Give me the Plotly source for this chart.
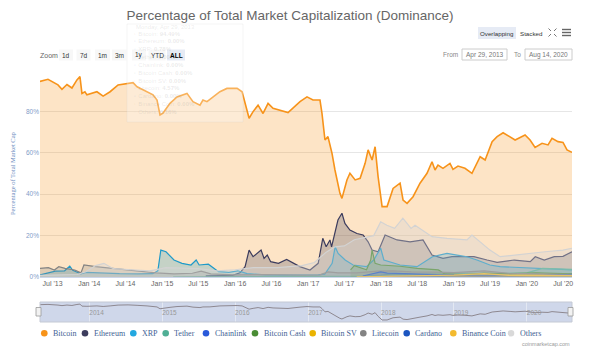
import plotly.graph_objects as go

# ---------------- data ----------------
btc_dates = ["2013-04-29","2013-06-08","2013-07-28","2013-08-17","2013-09-11","2013-10-06","2013-10-31",
             "2013-11-15","2013-11-25","2013-12-10","2013-12-20","2014-02-08","2014-03-11","2014-04-15",
             "2014-05-25","2014-07-14","2014-08-08","2014-08-28","2014-10-17","2014-11-16","2014-12-06",
             "2014-12-21","2015-01-05","2015-02-09","2015-03-16","2015-05-05","2015-06-04","2015-07-09",
             "2015-07-24","2015-08-13","2015-08-28","2015-10-17","2015-11-21","2016-01-11","2016-02-05",
             "2016-02-20","2016-03-11","2016-03-31","2016-04-25","2016-05-20","2016-06-14","2016-07-09",
             "2016-09-22","2016-11-21","2016-12-26","2017-01-25","2017-03-01","2017-03-11","2017-03-26",
             "2017-04-10","2017-04-30","2017-05-15","2017-06-09","2017-06-19","2017-07-14","2017-07-29",
             "2017-08-24","2017-09-18","2017-10-13","2017-10-28","2017-11-17","2017-12-02","2017-12-17",
             "2018-01-06","2018-01-31","2018-03-02","2018-04-06","2018-04-21","2018-05-11","2018-06-10",
             "2018-07-15","2018-08-19","2018-09-13","2018-09-28","2018-10-13","2018-11-07","2018-12-12",
             "2018-12-27","2019-01-21","2019-02-25","2019-04-01","2019-05-12","2019-06-06","2019-07-11",
             "2019-08-05","2019-09-04","2019-10-09","2019-11-03","2019-12-23","2020-01-17","2020-02-11",
             "2020-03-17","2020-04-16","2020-05-06","2020-06-05","2020-06-30","2020-07-20","2020-08-09",
             "2020-08-14"]
btc_vals = [94.5,95.5,92.8,90.7,93.0,91.3,95.2,
            96.8,88.7,89.5,88.0,89.5,87.4,89.5,
            92.8,93.6,93.9,91.9,89.5,88.0,85.5,
            78.3,79.2,83.9,87.0,88.7,84.7,83.0,
            85.5,84.7,85.8,89.5,91.1,91.1,89.5,
            83.9,76.7,79.9,83.0,79.0,83.9,81.5,
            79.4,84.7,87.0,85.5,85.5,79.0,66.2,
            67.8,59.8,51.7,40.4,38.0,46.9,50.1,
            46.9,47.7,54.9,61.4,56.5,62.9,48.5,
            34.0,34.0,42.8,45.3,37.2,35.6,38.8,
            45.3,50.1,55.7,51.7,54.1,52.5,54.9,
            52.0,53.6,52.5,50.1,58.1,56.5,65.4,
            67.8,69.7,67.8,66.2,68.6,66.2,62.6,
            64.6,63.8,67.0,65.4,65.0,61.4,60.2,
            60.2]

eth_dates = ["2015-08-07","2015-10-01","2015-12-20","2016-01-25","2016-02-20","2016-03-11","2016-03-31",
             "2016-05-10","2016-05-25","2016-06-10","2016-06-27","2016-08-05","2016-09-15","2016-11-20",
             "2017-01-10","2017-02-20","2017-03-15","2017-04-01","2017-04-20","2017-04-28","2017-05-15",
             "2017-05-30","2017-06-19","2017-07-04","2017-07-29","2017-09-02","2017-10-03","2017-10-28",
             "2017-11-17","2017-12-17","2018-01-21","2018-03-22","2018-05-26","2018-07-30","2018-09-13",
             "2018-11-07","2018-12-22","2019-04-11","2019-06-16","2019-08-05","2019-10-30","2020-01-18",
             "2020-02-12","2020-03-28","2020-05-17","2020-06-30","2020-08-14"]
eth_vals = [0.5,0.6,0.8,2.0,5.0,13.0,9.8,
            13.0,9.0,10.6,7.4,6.6,8.5,5.0,
            3.4,6.6,18.7,14.6,17.9,14.6,21.0,
            27.5,30.8,25.9,22.7,21.0,20.3,17.0,
            13.0,12.2,20.3,17.9,17.0,17.9,10.6,
            9.0,9.8,9.8,8.2,7.1,8.2,7.4,
            9.8,8.2,9.8,10.0,12.2]

xrp_dates = ["2013-04-29","2013-07-15","2013-08-30","2013-09-25","2013-10-10","2013-11-20","2013-12-15",
             "2014-03-01","2014-06-01","2014-09-01","2014-11-15","2014-12-10","2014-12-25","2015-01-20",
             "2015-02-10","2015-03-01","2015-04-10","2015-05-25","2015-06-20","2015-07-05","2015-08-20",
             "2015-09-15","2015-10-10","2015-12-01","2016-01-15","2016-03-01","2016-06-01","2016-09-01",
             "2016-12-01","2017-02-20","2017-03-25","2017-05-01","2017-05-16","2017-05-31","2017-07-05",
             "2017-08-14","2017-10-20","2017-11-25","2017-12-30","2018-01-15","2018-04-06","2018-06-30",
             "2018-09-15","2018-11-27","2019-01-16","2019-03-07","2019-04-26","2019-06-30","2019-08-20",
             "2020-01-18","2020-08-14"]
xrp_vals = [1.0,2.8,3.0,5.2,3.2,1.5,2.2,
            1.8,1.6,1.5,1.6,3.0,13.0,12.2,
            10.0,8.2,6.6,5.8,8.2,5.8,6.2,
            4.2,2.6,2.2,3.0,1.6,1.0,0.9,
            1.0,1.0,1.4,6.6,14.6,11.4,8.2,
            5.8,5.0,8.2,13.9,8.2,5.8,5.0,
            9.8,11.4,10.6,9.8,8.2,5.8,5.0,
            4.2,3.4]

usdt_dates = ["2015-02-25","2017-01-01","2017-10-01","2018-01-01","2018-03-01","2018-06-01","2018-09-01",
              "2018-12-15","2019-03-01","2019-07-01","2019-10-01","2020-01-01","2020-03-20","2020-06-01",
              "2020-08-14"]
usdt_vals = [0.0,0.1,0.4,0.8,1.5,1.0,1.3,
             1.8,1.9,1.6,1.8,2.0,4.2,4.0,
             3.7]

link_dates = ["2017-09-20","2018-06-01","2019-06-01","2019-08-01","2020-01-01","2020-05-01","2020-08-14"]
link_vals = [0.05,0.1,0.3,0.6,0.5,0.6,1.5]

bch_dates = ["2017-08-01","2017-08-20","2017-10-20","2017-11-10","2017-11-17","2017-12-02","2017-12-30",
             "2018-04-06","2018-07-01","2018-10-15","2018-11-15","2019-03-01","2019-06-01","2019-10-01",
             "2020-02-15","2020-08-14"]
bch_vals = [3.4,5.5,3.5,8.2,13.0,6.6,5.8,
            5.2,4.2,3.4,1.5,1.1,1.9,1.6,
            2.0,1.5]

bsv_dates = ["2018-11-15","2019-03-01","2019-06-01","2020-01-15","2020-03-01","2020-08-14"]
bsv_vals = [0.8,0.6,0.8,1.0,1.0,0.8]

ltc_dates = ["2013-04-29","2013-06-10","2013-07-10","2013-08-01","2013-09-01","2013-10-20","2013-11-20",
             "2013-12-05","2014-02-01","2014-04-15","2014-07-01","2014-09-10","2014-12-01","2015-03-01",
             "2015-06-01","2015-07-15","2015-09-01","2016-01-01","2016-06-01","2016-12-01","2017-03-01",
             "2017-04-10","2017-06-01","2017-09-01","2017-12-15","2018-03-01","2018-06-01","2018-10-01",
             "2019-01-01","2019-06-01","2019-10-01","2020-03-01","2020-08-14"]
ltc_vals = [4.2,4.5,3.4,5.0,4.2,3.4,2.0,
            5.8,5.0,4.2,3.4,2.6,2.0,1.5,
            1.8,2.8,1.5,1.0,1.2,0.9,1.0,
            2.5,2.0,2.0,2.8,3.0,2.5,2.4,
            2.1,3.0,1.8,1.5,1.2]

ada_dates = ["2017-10-01","2017-12-30","2018-02-01","2018-06-01","2019-01-01","2019-06-01","2020-01-01","2020-08-14"]
ada_vals = [0.5,2.5,1.9,1.5,0.9,0.8,0.6,0.9]

bnb_dates = ["2017-09-01","2018-01-01","2018-06-01","2019-01-01","2019-06-01","2019-10-01","2020-01-01","2020-08-14"]
bnb_vals = [0.1,0.3,0.6,0.9,1.6,0.8,0.7,0.7]

oth_dates = ["2013-04-29","2013-08-01","2013-11-01","2013-12-15","2014-02-01","2014-03-15","2014-05-01",
             "2014-08-01","2014-11-01","2015-01-20","2015-04-01","2015-07-01","2015-10-01","2016-01-01",
             "2016-04-01","2016-08-01","2016-12-01","2017-02-01","2017-04-01","2017-05-15","2017-07-01",
             "2017-08-20","2017-11-25","2017-12-30","2018-01-30","2018-03-10","2018-04-20","2018-05-31",
             "2018-06-20","2018-09-13","2018-11-27","2019-03-07","2019-04-01","2019-05-12","2019-06-30",
             "2019-08-20","2019-11-03","2020-01-18","2020-04-01","2020-06-30","2020-08-14"]
oth_vals = [0.8,1.0,1.2,2.5,5.5,6.6,4.0,
            3.5,3.0,4.5,4.2,4.0,3.0,3.5,
            4.5,4.5,5.5,7.0,12.0,14.6,15.0,
            18.0,20.0,26.7,25.0,23.5,28.4,23.5,
            25.0,19.5,18.7,17.9,20.3,17.0,13.0,
            9.8,10.6,11.7,12.2,13.0,13.9]

names = ["Bitcoin","Ethereum","XRP","Tether","Chainlink","Bitcoin Cash","Bitcoin SV",
         "Litecoin","Cardano","Binance Coin","Others"]
series_x = [btc_dates, eth_dates, xrp_dates, usdt_dates, link_dates, bch_dates, bsv_dates,
            ltc_dates, ada_dates, bnb_dates, oth_dates]
series_y = [btc_vals, eth_vals, xrp_vals, usdt_vals, link_vals, bch_vals, bsv_vals,
            ltc_vals, ada_vals, bnb_vals, oth_vals]
tooltip_vals = ["94.49%","0.00%","0.78%","0.00%","0.00%","0.00%","0.00%","4.57%","0.00%","0.00%","0.16%"]

y_ticks = [0, 20, 40, 60, 80, 100]
y_ticktext = ["0%", "20%", "40%", "60%", "80%", ""]
nav_years = ["2014","2015","2016","2017","2018","2019","2020"]
range_buttons = ["1d","7d","1m","3m","1y","YTD","ALL"]
date_from, date_to = "Apr 29, 2013", "Aug 14, 2020"

# ---------------- styles ----------------
colors = ["#f7931a","#3c3c5d","#1f9ac9","#50af95","#2a5ada","#4a8c34","#eab300",
          "#838383","#1c55c0","#f3ba2f","#d3d3d3"]
legend_colors = ["#f7931a","#3c3c5d","#23a8e0","#50af95","#2a5ada","#4a8c34","#eab300",
                 "#838383","#1c55c0","#f3ba2f","#d9d9d9"]
def rgba(hexc, a):
    h = hexc.lstrip("#")
    return "rgba(%d,%d,%d,%.2f)" % (int(h[0:2],16), int(h[2:4],16), int(h[4:6],16), a)

W, H = 600, 357
ML, MR, MT, MB = 40, 28, 70, 35
def px(x): return (x - ML) / (W - ML - MR)
def py(y): return (H - MB - y) / (H - MT - MB)

SERIF = "Liberation Serif"
SANS = "Liberation Sans"

def note(x, y, text, size, color, family=SANS, xanchor="center", **kw):
    return dict(x=px(x), y=py(y), xref="paper", yref="paper", xanchor=xanchor, yanchor="middle",
                text=text, showarrow=False, font=dict(family=family, size=size, color=color), **kw)

fig = go.Figure()
for i, (nm, xs, ys) in enumerate(zip(names, series_x, series_y)):
    fig.add_trace(go.Scatter(
        x=xs, y=ys, name=nm, mode="lines", fill="tozeroy",
        line=dict(color=colors[i], width=1.6 if i == 0 else 1.2),
        fillcolor=rgba(colors[i], 0.25 if i != 10 else 0.35),
        hoverinfo="skip", showlegend=False, xaxis="x", yaxis="y"))

# navigator series
fig.add_trace(go.Scatter(x=btc_dates, y=btc_vals, mode="lines",
                         line=dict(color="#8e8890", width=1),
                         hoverinfo="skip", showlegend=False, xaxis="x2", yaxis="y2"))

xr = ["2013-04-29", "2020-08-14"]
fig.update_layout(
    width=W, height=H, margin=dict(l=ML, r=MR, t=MT, b=MB),
    paper_bgcolor="white", plot_bgcolor="white", showlegend=False,
    title=dict(text="Percentage of Total Market Capitalization (Dominance)",
               x=290 / W, y=1 - 15 / H, xanchor="center", yanchor="middle",
               font=dict(family=SANS, size=13.5, color="#666666")),
    xaxis=dict(domain=[0, 1], anchor="y", range=xr, type="date",
               tick0="2013-07-01", dtick="M6", tickformat="%b '%y",
               showgrid=False, showline=True, linecolor="#ccd6eb", ticks="",
               tickfont=dict(family=SANS, size=7, color="#666666")),
    yaxis=dict(domain=[py(277), 1], anchor="x", range=[0, 100],
               tickvals=y_ticks, ticktext=y_ticktext, showgrid=True,
               gridcolor="#e6e6e6", zeroline=False, ticks="",
               tickfont=dict(family=SANS, size=6.5, color="#7f9cc9")),
    xaxis2=dict(domain=[0, 1], anchor="y2", range=xr, type="date",
                tickvals=[y + "-01-01" for y in nav_years], ticktext=nav_years,
                ticklabelposition="inside right", showgrid=True, gridcolor="#e3e8f2",
                showline=False, ticks="",
                tickfont=dict(family=SANS, size=6.5, color="#999999")),
    yaxis2=dict(domain=[0, py(302)], anchor="x2", range=[26, 105], visible=False),
)

shapes = []
annots = []

# navigator background, outline and handles
shapes.append(dict(type="rect", xref="paper", yref="paper", x0=0, x1=1, y0=0, y1=py(302),
                   fillcolor="#cfd7ea", line=dict(width=0), layer="below"))
shapes.append(dict(type="rect", xref="paper", yref="paper", x0=0, x1=1, y0=0, y1=py(302),
                   fillcolor="rgba(0,0,0,0)", line=dict(color="#c4c9d4", width=1), layer="above"))
for hx in (38.5, 570.5):
    shapes.append(dict(type="rect", xref="paper", yref="paper", x0=px(hx - 2.5), x1=px(hx + 2.5),
                       y0=py(316), y1=py(307.5), fillcolor="#f2f2f2",
                       line=dict(color="#999999", width=0.8), layer="above"))

# ghost tooltip
shapes.append(dict(type="rect", xref="paper", yref="paper", x0=px(127), x1=px(243), y0=py(122), y1=py(24),
                   fillcolor="rgba(255,255,255,0.28)", line=dict(color="rgba(200,200,200,0.2)", width=1),
                   layer="above"))
annots.append(note(134, 26.7, "Monday, Apr 29, 2013", 6, "rgba(140,140,140,0.18)", xanchor="left"))
for i, nm in enumerate(names):
    yy = 33.5 + i * 7.85
    annots.append(note(131, yy,
                       "<span style='color:%s'>●</span> %s: <b>%s</b>" % (rgba(colors[i], 0.2), nm, tooltip_vals[i]),
                       6, "rgba(140,140,140,0.18)", xanchor="left"))

# range selector
annots.append(note(49, 55, "Zoom", 7, "#666666"))
btn_cx = [66, 83.5, 102.5, 119.5, 139, 157, 176]
btn_w = [14, 14, 15, 15, 14, 17, 18]
for lab, cx, bw in zip(range_buttons, btn_cx, btn_w):
    sel = lab == "ALL"
    shapes.append(dict(type="rect", xref="paper", yref="paper", x0=px(cx - bw / 2), x1=px(cx + bw / 2),
                       y0=py(60.5), y1=py(49.5), fillcolor="#e6ebf5" if sel else "#f7f7f7",
                       line=dict(width=0), layer="above"))
    annots.append(note(cx, 55, "<b>%s</b>" % lab if sel else lab, 6.5,
                       "#000000" if sel else "#333333"))

# date inputs
annots.append(note(450, 54.5, "From", 6.5, "#888888"))
annots.append(note(517, 54.5, "To", 6.5, "#888888"))
for x0, x1, txt in ((462, 507, date_from), (525, 572, date_to)):
    shapes.append(dict(type="rect", xref="paper", yref="paper", x0=px(x0), x1=px(x1), y0=py(60), y1=py(49),
                       fillcolor="white", line=dict(color="#cccccc", width=1), layer="above"))
    annots.append(note((x0 + x1) / 2, 54.5, txt, 6.5, "#777777"))

# overlapping / stacked toggles and icons
shapes.append(dict(type="rect", xref="paper", yref="paper", x0=px(478), x1=px(516), y0=py(39), y1=py(27),
                   fillcolor="#e6ebf5", line=dict(width=0), layer="above"))
annots.append(note(497, 33, "Overlapping", 6.2, "#333333"))
annots.append(note(531, 33, "Stacked", 6.2, "#333333"))
for (ax0, ay0, ax1, ay1) in ((548.5, 28.5, 551, 31), (556.5, 28.5, 554, 31),
                             (548.5, 36.5, 551, 34), (556.5, 36.5, 554, 34)):
    shapes.append(dict(type="line", xref="paper", yref="paper", x0=px(ax0), y0=py(ay0), x1=px(ax1), y1=py(ay1),
                       line=dict(color="#777777", width=1), layer="above"))
for yy in (29.5, 32.5, 35.5):
    shapes.append(dict(type="line", xref="paper", yref="paper", x0=px(562), x1=px(571), y0=py(yy), y1=py(yy),
                       line=dict(color="#666666", width=1.4), layer="above"))

# y axis title
annots.append(note(12, 174, "Percentage of Total Market Cap", 6.5, "#6d8cc0", family=SERIF, textangle=-90))

# legend
leg_cx = [44.3, 85, 133.3, 165.7, 206, 255, 312.7, 363.3, 406.7, 453.3, 511]
for i, nm in enumerate(names):
    cx = leg_cx[i]
    shapes.append(dict(type="circle", xref="paper", yref="paper",
                       x0=px(cx - 3.3), x1=px(cx + 3.3), y0=py(336.6), y1=py(330),
                       fillcolor=legend_colors[i], line=dict(width=0), layer="above"))
    annots.append(note(cx + 6.5, 333.3, nm, 8, "#3f5f94", family=SERIF, xanchor="left"))

# credits
annots.append(note(572, 344.3, "coinmarketcap.com", 5.5, "#999999", xanchor="right"))

fig.update_layout(shapes=shapes, annotations=annots)
fig.write_html("out.html", config={"displayModeBar": False, "staticPlot": True},
               post_script="document.body.style.margin='0';document.body.style.overflow='hidden';")
